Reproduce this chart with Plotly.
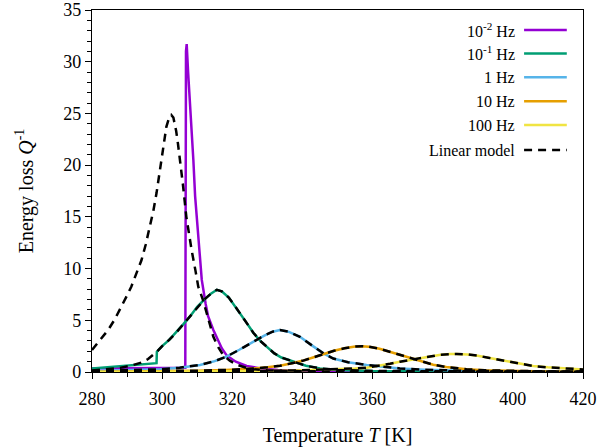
import plotly.graph_objects as go

# ---------------- data ----------------
T_f001 = [280, 290, 300, 306.6, 306.8, 307.0, 307.4, 307.9, 308.4, 308.9, 309.4, 310.0,
          310.6, 311.3, 312.4, 313.1, 314.6, 316.0, 317.0, 318.4, 321.0, 324.1, 328.0,
          333.0, 340.0, 350.0, 370.0, 420.0]
Q_f001 = [0.35, 0.37, 0.39, 0.4, 31.0, 31.7, 29.0, 26.3, 23.3, 20.5, 17.0, 14.2,
          11.8, 8.9, 6.6, 5.4, 4.06, 3.0, 2.3, 1.6, 1.0, 0.58, 0.35,
          0.2, 0.12, 0.06, 0.03, 0.01]

T_f01 = [280, 284, 288, 292, 296, 298.4, 298.5, 300, 302, 304, 306, 308, 310, 312, 314,
         315.6, 317, 319, 320.5, 322.2, 324, 326, 328, 329.8, 332, 334, 337.4, 341, 345,
         350, 360, 380, 420]
Q_f01 = [0.35, 0.45, 0.55, 0.65, 0.78, 0.85, 1.96, 2.5, 3.1, 3.8, 4.6, 5.4, 6.3, 7.0, 7.6,
         7.95, 7.8, 7.2, 6.5, 5.7, 4.8, 3.8, 3.0, 2.45, 1.8, 1.4, 1.0, 0.6, 0.35,
         0.2, 0.1, 0.05, 0.02]

T_f1 = [280, 290, 299.4, 305, 310.8, 315, 318.4, 322, 326, 329, 331.5, 333.6, 336, 339.3,
        343, 346, 348.8, 353, 358.3, 363, 367.8, 375, 385, 400, 420]
Q_f1 = [0.1, 0.15, 0.26, 0.42, 0.68, 1.05, 1.5, 2.15, 2.93, 3.5, 3.9, 4.06, 3.9, 3.4,
        2.5, 1.8, 1.3, 0.95, 0.68, 0.5, 0.35, 0.22, 0.13, 0.07, 0.04]

T_f10 = [280, 300, 310, 318, 324, 330, 333.6, 337, 340, 343, 346, 349, 352, 355, 357, 359,
         362, 365, 368, 371, 374, 377.3, 381, 386.8, 392, 400, 410, 420]
Q_f10 = [0.03, 0.08, 0.13, 0.2, 0.28, 0.45, 0.6, 0.85, 1.08, 1.4, 1.75, 2.05, 2.3, 2.47, 2.5,
         2.45, 2.25, 1.95, 1.62, 1.28, 0.98, 0.7, 0.48, 0.27, 0.17, 0.1, 0.06, 0.04]

T_f100 = [280, 310, 330, 340, 350, 355, 358.3, 362, 365, 367.8, 371, 375, 379, 382, 384, 387,
          390, 393, 396.3, 400, 403, 405.8, 410, 415, 420]
Q_f100 = [0.01, 0.04, 0.1, 0.16, 0.26, 0.34, 0.42, 0.6, 0.8, 1.0, 1.2, 1.45, 1.65, 1.73, 1.75,
          1.7, 1.58, 1.38, 1.16, 0.92, 0.74, 0.58, 0.45, 0.34, 0.25]

# linear model for 10^-2 Hz
T_lin001 = [280, 282, 284.6, 286.5, 288.4, 290, 291.2, 292.7, 294.1, 295.3, 296.5, 297.5,
            298.4, 299.1, 299.8, 300.5, 301.2, 302.0, 302.6, 303.2, 304.0, 304.5, 305.2,
            305.9, 306.9, 307.6, 308.4, 309.5, 310.3, 311.7, 312.7, 313.6, 314.6, 316.0,
            317.4, 319.3, 321.3, 324.0, 326.0, 330.0, 340.0, 360.0, 420.0]
Q_lin001 = [2.13, 3.0, 4.06, 5.1, 6.3, 7.4, 8.25, 9.5, 10.8, 12.3, 14.0, 15.6,
            17.3, 18.9, 20.5, 22.1, 23.7, 24.6, 24.85, 24.6, 23.3, 22.1, 20.3,
            18.2, 15.0, 13.3, 11.8, 9.8, 8.25, 6.9, 5.7, 4.5, 3.4, 2.4,
            1.65, 1.1, 0.7, 0.4, 0.26, 0.15, 0.07, 0.03, 0.01]

# linear model for 10^-1 Hz (below the jump; above it equals the 10^-1 Hz curve)
T_lin01_low = [280, 284, 288, 291, 294, 296]
Q_lin01_low = [0.15, 0.25, 0.4, 0.6, 0.9, 1.25]

series_names = ["10<sup>-2</sup> Hz", "10<sup>-1</sup> Hz", "1 Hz", "10 Hz", "100 Hz"]
series_colors = ["#9400D3", "#009E73", "#56B4E9", "#E69F00", "#F0E442"]
legend_model = "Linear model"

# ---------------- figure ----------------
fig = go.Figure()
curves = [(T_f001, Q_f001), (T_f01, Q_f01), (T_f1, Q_f1), (T_f10, Q_f10), (T_f100, Q_f100)]
for (tx, qy), name, col in zip(curves, series_names, series_colors):
    fig.add_trace(go.Scatter(x=tx, y=qy, mode="lines", name=name,
                             line=dict(color=col, width=2.5), showlegend=False))

jump = T_f01.index(298.5)
T_lin01 = T_lin01_low + T_f01[jump:]
Q_lin01 = Q_lin01_low + Q_f01[jump:]
models = [(T_lin001, Q_lin001), (T_lin01, Q_lin01), (T_f1, Q_f1), (T_f10, Q_f10), (T_f100, Q_f100)]
dash = "8px,6px"
for tx, qy in models:
    fig.add_trace(go.Scatter(x=tx, y=qy, mode="lines", name=legend_model,
                             line=dict(color="black", width=2.5, dash=dash), showlegend=False))

# manual legend (text right-aligned, sample line on the right, gnuplot style)
font_family = "Liberation Serif, Times New Roman, serif"
leg_labels = series_names + [legend_model]
leg_colors = series_colors + ["black"]
leg_y = [0.945, 0.880, 0.814, 0.748, 0.682, 0.613]
for lab, col, yy in zip(leg_labels, leg_colors, leg_y):
    fig.add_annotation(x=0.866, y=yy, xref="paper", yref="paper", text=lab,
                       showarrow=False, xanchor="right", yanchor="middle",
                       font=dict(family=font_family, size=16, color="black"))
    fig.add_shape(type="line", xref="paper", yref="paper", x0=0.88, x1=0.967, y0=yy, y1=yy,
                  line=dict(color=col, width=2.5, dash=dash if col == "black" else "solid"))

axis_common = dict(showline=True, linecolor="black", linewidth=1.2, mirror=True,
                   ticks="outside", ticklen=6, tickwidth=1, tickcolor="black",
                   showgrid=False, zeroline=False, automargin=False,
                   ticklabeloverflow="allow",
                   tickfont=dict(family=font_family, size=18, color="black"))

fig.update_xaxes(range=[280, 420], dtick=20, tick0=280, ticklabelstandoff=4,
                 minor=dict(dtick=10, ticks="outside", ticklen=4, tickcolor="black"),
                 title=dict(text="Temperature <i>T</i> [K]", standoff=20,
                            font=dict(family=font_family, size=20, color="black")),
                 **axis_common)
fig.update_yaxes(range=[0, 35], dtick=5, tick0=0,
                 minor=dict(dtick=1, ticks="outside", ticklen=4, tickcolor="black"),
                 title=dict(text="Energy loss <i>Q</i><sup>-1</sup>", standoff=24,
                            font=dict(family=font_family, size=20, color="black")),
                 **axis_common)

fig.update_layout(width=608, height=447, margin=dict(l=92, r=25, t=10, b=75),
                  plot_bgcolor="white", paper_bgcolor="white", showlegend=False,
                  font=dict(family=font_family, size=16, color="black"))

# remove the default 8 px page margin so the figure fills the window exactly
fig.write_html("out.html", config={"displayModeBar": False},
               post_script="document.body.style.margin='0';")
